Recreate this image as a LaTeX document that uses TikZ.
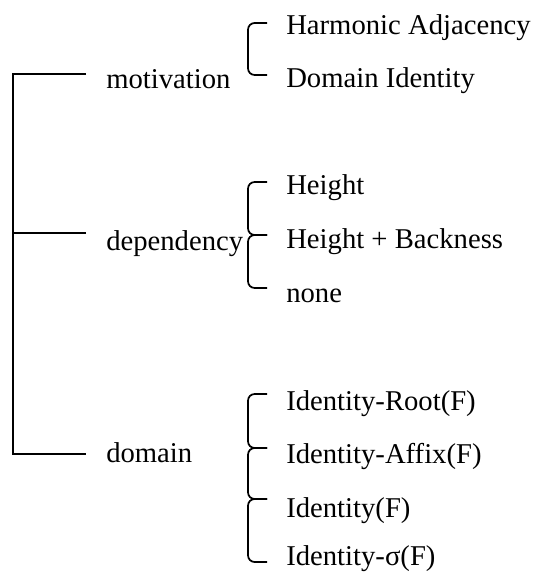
\documentclass[tikz,border=0pt]{standalone}
\usepackage{fontspec}
\setmainfont{Liberation Serif}
\usetikzlibrary{positioning}
\tikzset{
  leaf/.style={
    inner sep=0pt, anchor=base west, font=\fontsize{21.5}{26}\selectfont
  },
  branch/.style={
    line width=0.9pt, color=black
  },
  bracket/.style={
    line width=1.3pt, color=black, rounded corners=5pt
  }
}

\begin{document}
\begin{tikzpicture}[x=0.75pt, y=-0.75pt]
\useasboundingbox (0,0) rectangle (538,573);

% Categories
\node[leaf] (motiv) at (106,89) {motivation};
\node[leaf] (depend) at (106,250) {dependency};
\node[leaf] (domain) at (106,462) {domain};

% Tree
\coordinate (motiv-end) at (86,74);
\coordinate (depend-end) at (86,233);
\coordinate (domain-end) at (86,454);
\draw[branch] (motiv-end) -- ++(-73,0) |- (domain-end);
\draw[branch] (depend-end) -- ++(-73,0);

% Motivation values
\node[leaf] (harm) at (286,35) {Harmonic Adjacency};
\node[leaf] (domid) at (286,88) {Domain Identity};
\coordinate (harm-t) at (267,23);
\coordinate (domid-t) at (267,75);
\draw[bracket] (harm-t) -- ++(-19,0) |- (domid-t);

% Dependency values
\node[leaf] (height) at (286,195) {Height};
\node[leaf] (heightback) at (286,248) {Height + Backness};
\node[leaf] (none) at (286,302) {none};
\coordinate (height-t) at (267,182);
\coordinate (heightback-t) at (267,235);
\coordinate (none-t) at (267,288);
\draw[bracket] (height-t) -- ++(-19,0) |- (heightback-t);
\draw[bracket] (heightback-t) -- ++(-19,0) |- (none-t);

% Domain values
\node[leaf] (idroot) at (286,410) {Identity-Root(F)};
\node[leaf] (idaffix) at (286,463) {Identity-Affix(F)};
\node[leaf] (idf) at (286,517) {Identity(F)};
\node[leaf] (idsigma) at (286,565) {Identity-σ(F)};
\coordinate (idroot-t) at (267,394);
\coordinate (idaffix-t) at (267,448);
\coordinate (idf-t) at (267,499);
\coordinate (idsigma-t) at (267,562);
\draw[bracket] (idroot-t) -- ++(-19,0) |- (idaffix-t);
\draw[bracket] (idaffix-t) -- ++(-19,0) |- (idf-t);
\draw[bracket] (idf-t) -- ++(-19,0) |- (idsigma-t);

\end{tikzpicture}
\end{document}
